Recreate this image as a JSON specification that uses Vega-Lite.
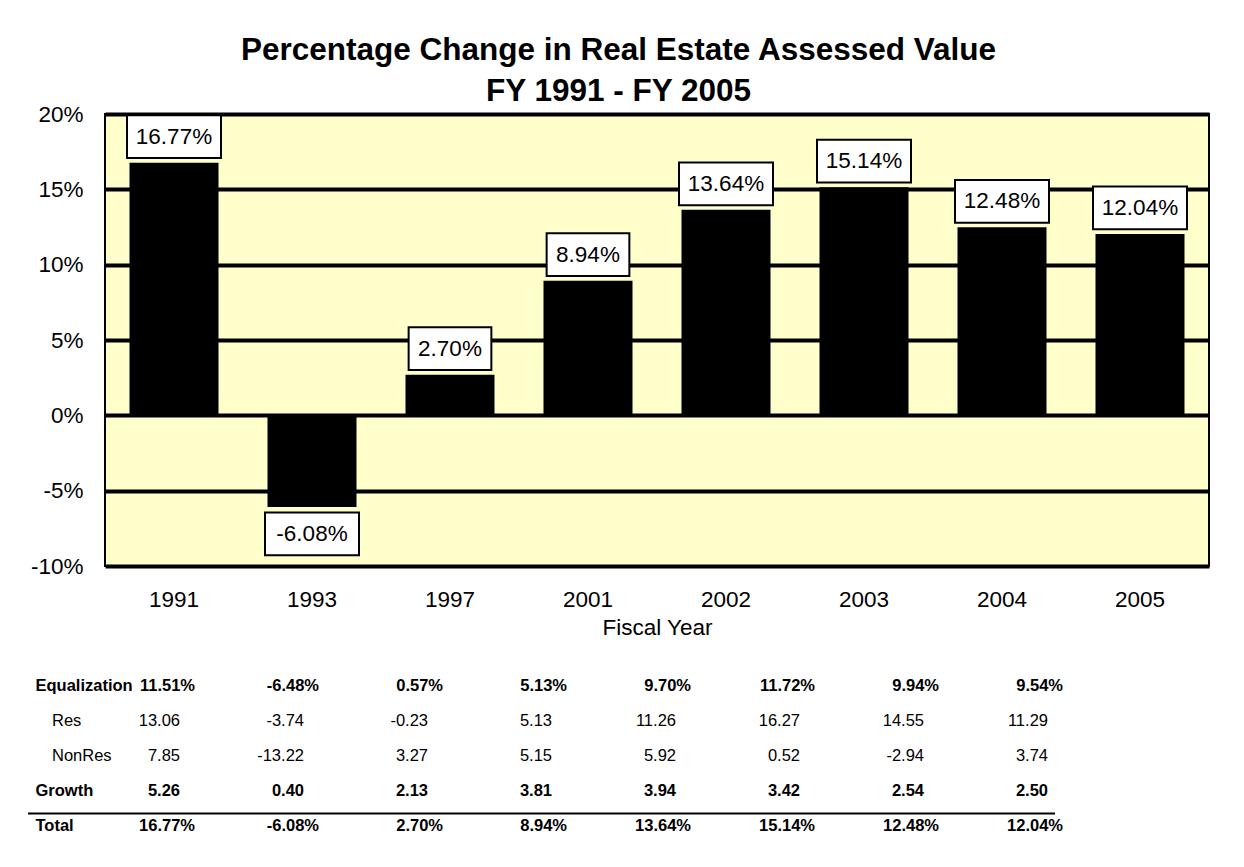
{
  "$schema": "https://vega.github.io/schema/vega-lite/v6.json",
  "background": "white",
  "padding": {"left": 27, "top": 34, "right": 10, "bottom": 8},
  "config": {
    "font": "Liberation Sans",
    "view": {"stroke": null}
  },
  "title": {
    "text": ["Percentage Change in Real Estate Assessed Value", "FY 1991 - FY 2005"],
    "fontSize": 31.5,
    "fontWeight": "bold",
    "color": "black",
    "font": "Liberation Sans",
    "anchor": "middle",
    "lineHeight": 41,
    "offset": -5
  },
  "datasets": {
    "bars": [
      {"year": "1991", "pct": 16.77},
      {"year": "1993", "pct": -6.08},
      {"year": "1997", "pct": 2.70},
      {"year": "2001", "pct": 8.94},
      {"year": "2002", "pct": 13.64},
      {"year": "2003", "pct": 15.14},
      {"year": "2004", "pct": 12.48},
      {"year": "2005", "pct": 12.04}
    ],
    "table": [
      {"row": "Equalization", "year": "1991", "value": 11.51},
      {"row": "Equalization", "year": "1993", "value": -6.48},
      {"row": "Equalization", "year": "1997", "value": 0.57},
      {"row": "Equalization", "year": "2001", "value": 5.13},
      {"row": "Equalization", "year": "2002", "value": 9.70},
      {"row": "Equalization", "year": "2003", "value": 11.72},
      {"row": "Equalization", "year": "2004", "value": 9.94},
      {"row": "Equalization", "year": "2005", "value": 9.54},
      {"row": "Res", "year": "1991", "value": 13.06},
      {"row": "Res", "year": "1993", "value": -3.74},
      {"row": "Res", "year": "1997", "value": -0.23},
      {"row": "Res", "year": "2001", "value": 5.13},
      {"row": "Res", "year": "2002", "value": 11.26},
      {"row": "Res", "year": "2003", "value": 16.27},
      {"row": "Res", "year": "2004", "value": 14.55},
      {"row": "Res", "year": "2005", "value": 11.29},
      {"row": "NonRes", "year": "1991", "value": 7.85},
      {"row": "NonRes", "year": "1993", "value": -13.22},
      {"row": "NonRes", "year": "1997", "value": 3.27},
      {"row": "NonRes", "year": "2001", "value": 5.15},
      {"row": "NonRes", "year": "2002", "value": 5.92},
      {"row": "NonRes", "year": "2003", "value": 0.52},
      {"row": "NonRes", "year": "2004", "value": -2.94},
      {"row": "NonRes", "year": "2005", "value": 3.74},
      {"row": "Growth", "year": "1991", "value": 5.26},
      {"row": "Growth", "year": "1993", "value": 0.40},
      {"row": "Growth", "year": "1997", "value": 2.13},
      {"row": "Growth", "year": "2001", "value": 3.81},
      {"row": "Growth", "year": "2002", "value": 3.94},
      {"row": "Growth", "year": "2003", "value": 3.42},
      {"row": "Growth", "year": "2004", "value": 2.54},
      {"row": "Growth", "year": "2005", "value": 2.50},
      {"row": "Total", "year": "1991", "value": 16.77},
      {"row": "Total", "year": "1993", "value": -6.08},
      {"row": "Total", "year": "1997", "value": 2.70},
      {"row": "Total", "year": "2001", "value": 8.94},
      {"row": "Total", "year": "2002", "value": 13.64},
      {"row": "Total", "year": "2003", "value": 15.14},
      {"row": "Total", "year": "2004", "value": 12.48},
      {"row": "Total", "year": "2005", "value": 12.04}
    ]
  },
  "spacing": 29,
  "vconcat": [
    {
      "width": 1104,
      "height": 452,
      "data": {"name": "bars"},
      "view": {"fill": "#FFFFCC", "stroke": "black", "strokeWidth": 2},
      "transform": [
        {"calculate": "replace(format(datum.pct, '.2f'), '\u2212', '-') + '%'", "as": "label"},
        {"calculate": "length(datum.label) > 5 ? 'wide' : 'narrow'", "as": "w"}
      ],
      "encoding": {
        "x": {
          "field": "year",
          "type": "ordinal",
          "scale": {"paddingInner": 0.355, "paddingOuter": 0.1775},
          "axis": {
            "title": "Fiscal Year",
            "labelAngle": 0,
            "labelFontSize": 22.5,
            "labelColor": "black",
            "labelPadding": 22,
            "ticks": false,
            "domain": false,
            "titleFontSize": 22.5,
            "titleFontWeight": "normal",
            "titleColor": "black",
            "titlePadding": 6
          }
        },
        "y": {
          "field": "pct",
          "type": "quantitative",
          "scale": {"domain": [-10, 20], "nice": false},
          "axis": {
            "values": [-10, -5, 0, 5, 10, 15, 20],
            "labelExpr": "datum.value + '%'",
            "title": null,
            "grid": true,
            "gridColor": "black",
            "gridWidth": 4,
            "gridOpacity": 1,
            "ticks": false,
            "domain": false,
            "labelFontSize": 22.5,
            "labelColor": "black",
            "labelPadding": 22
          }
        }
      },
      "layer": [
        {"mark": {"type": "bar", "color": "black"}},
        {
          "transform": [{"filter": "datum.pct >= 0"}],
          "mark": {"type": "point", "filled": true, "fill": "white", "stroke": "black", "strokeWidth": 2, "opacity": 1, "size": 8836, "yOffset": -26},
          "encoding": {
            "shape": {"field": "w", "type": "nominal", "legend": null, "scale": {"domain": ["wide", "narrow"], "range": ["M-1,-0.455L1,-0.455L1,0.455L-1,0.455Z", "M-0.88,-0.455L0.88,-0.455L0.88,0.455L-0.88,0.455Z"]}}
          }
        },
        {
          "transform": [{"filter": "datum.pct < 0"}],
          "mark": {"type": "point", "filled": true, "fill": "white", "stroke": "black", "strokeWidth": 2, "opacity": 1, "size": 8836, "yOffset": 27},
          "encoding": {
            "shape": {"field": "w", "type": "nominal", "legend": null, "scale": {"domain": ["wide", "narrow"], "range": ["M-1,-0.455L1,-0.455L1,0.455L-1,0.455Z", "M-0.88,-0.455L0.88,-0.455L0.88,0.455L-0.88,0.455Z"]}}
          }
        },
        {
          "transform": [{"filter": "datum.pct >= 0"}],
          "mark": {"type": "text", "fontSize": 22.5, "color": "black", "baseline": "middle", "yOffset": -26},
          "encoding": {"text": {"field": "label"}}
        },
        {
          "transform": [{"filter": "datum.pct < 0"}],
          "mark": {"type": "text", "fontSize": 22.5, "color": "black", "baseline": "middle", "yOffset": 27},
          "encoding": {"text": {"field": "label"}}
        }
      ]
    },
    {
      "width": 1104,
      "height": 174,
      "data": {"name": "table"},
      "view": {"stroke": null, "fill": null},
      "transform": [
        {"calculate": "replace(format(datum.value, '.2f'), '\u2212', '-') + (datum.row == 'Equalization' || datum.row == 'Total' ? '%' : '')", "as": "txt"}
      ],
      "encoding": {
        "y": {
          "field": "row",
          "type": "nominal",
          "sort": ["Equalization", "Res", "NonRes", "Growth", "Total"],
          "scale": {"type": "band", "paddingInner": 0, "paddingOuter": 0},
          "axis": {
            "title": null,
            "domain": false,
            "ticks": false,
            "labelAlign": "left",
            "labelBaseline": "middle",
            "labelPadding": 70,
            "labelFontSize": 16.5,
            "labelColor": "black",
            "labelFontWeight": {"condition": {"test": "datum.value == 'Res' || datum.value == 'NonRes'", "value": "normal"}, "value": "bold"},
            "labelExpr": "datum.value == 'Res' || datum.value == 'NonRes' ? '\u200b\u2003' + datum.value : datum.value"
          }
        },
        "x": {
          "field": "year",
          "type": "ordinal",
          "scale": {"type": "point", "range": [75, 943], "padding": 0},
          "axis": null
        }
      },
      "layer": [
        {
          "transform": [{"filter": "datum.row == 'Equalization' || datum.row == 'Total'"}],
          "mark": {"type": "text", "align": "right", "baseline": "middle", "fontSize": 16.5, "fontWeight": "bold", "color": "black", "dx": 15},
          "encoding": {"text": {"field": "txt"}}
        },
        {
          "transform": [{"filter": "datum.row == 'Growth'"}],
          "mark": {"type": "text", "align": "right", "baseline": "middle", "fontSize": 16.5, "fontWeight": "bold", "color": "black"},
          "encoding": {"text": {"field": "txt"}}
        },
        {
          "transform": [{"filter": "datum.row == 'Res' || datum.row == 'NonRes'"}],
          "mark": {"type": "text", "align": "right", "baseline": "middle", "fontSize": 16.5, "fontWeight": "normal", "color": "black"},
          "encoding": {"text": {"field": "txt"}}
        },
        {
          "transform": [{"filter": "datum.row == 'Total' && datum.year == '1991'"}],
          "mark": {"type": "rule", "strokeWidth": 2, "color": "black", "xOffset": -152, "x2Offset": 7},
          "encoding": {
            "y": {"datum": "Total", "type": "nominal", "bandPosition": 0.15},
            "x": {"datum": "1991", "type": "ordinal"},
            "x2": {"datum": "2005"}
          }
        }
      ]
    }
  ]
}
